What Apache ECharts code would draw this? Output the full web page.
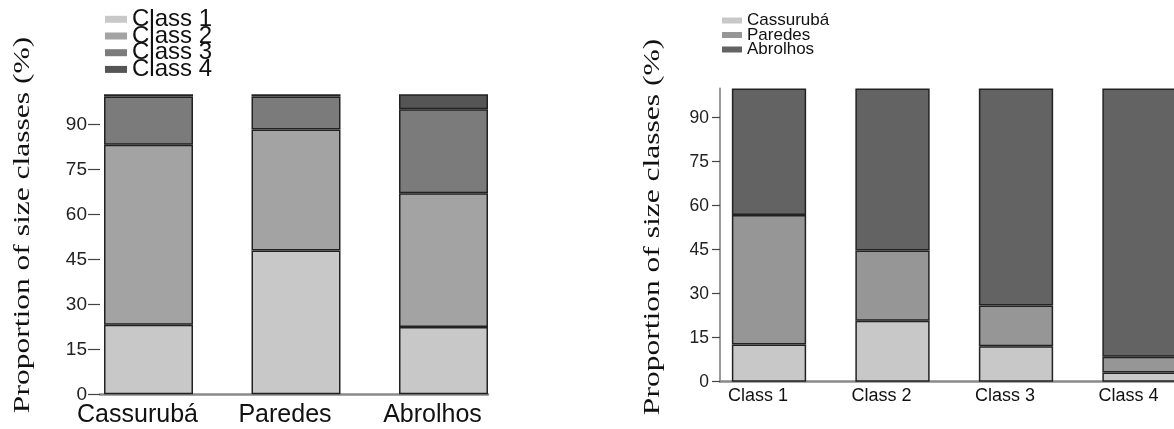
<!DOCTYPE html>
<html>
<head>
<meta charset="utf-8">
<script src="https://cdn.jsdelivr.net/npm/echarts@6/dist/echarts.min.js"></script>
<style>
  html, body { margin: 0; padding: 0; background: #fff; }
  #chart { width: 1174px; height: 429px; }
</style>
</head>
<body>
<div id="chart"></div>
<script>
// Left panel: size-class composition per site
const sites = ['Cassurubá', 'Paredes', 'Abrolhos'];
const sizeClasses = ['Class 1', 'Class 2', 'Class 3', 'Class 4'];
const class1 = [23.2, 47.9, 22.4];
const class2 = [60.0, 40.4, 44.6];
const class3 = [16.1, 11.0, 28.0];
const class4 = [0.7, 0.7, 5.0];

// Right panel: site composition per size class
const cassuruba = [12.7, 20.8, 12.1, 3.1];
const paredes = [44.1, 23.9, 13.9, 5.4];
const abrolhos = [43.2, 55.3, 74.0, 91.5];

const yTicks = [0, 15, 30, 45, 60, 75, 90];
const yTitle = 'Proportion of size classes (%)';

const leftColors = ['#c8c8c8', '#a3a3a3', '#7b7b7b', '#555555'];
const rightColors = ['#c8c8c8', '#969696', '#636363'];
const textFont = '"Liberation Sans", Arial, sans-serif';
const titleFont = '23px "Liberation Serif", "Times New Roman", serif';
const edge = { borderColor: '#222', borderWidth: 1.5 };

const chart = echarts.init(document.getElementById('chart'), null, { renderer: 'canvas' });

function frameY(gridIndex, fontSize, showLine, tickLen, margin) {
  return {
    type: 'value', gridIndex, min: 0, max: 100,
    splitLine: { show: false },
    axisLine: { show: showLine, lineStyle: { color: '#999', width: 2 } },
    axisTick: { show: true, length: tickLen, customValues: yTicks, lineStyle: { color: '#444', width: 1.2 } },
    axisLabel: { customValues: yTicks, color: '#222', fontSize, fontFamily: textFont, margin }
  };
}
function frameX(gridIndex) {
  return {
    type: 'value', gridIndex, min: 0, max: 1,
    splitLine: { show: false }, axisTick: { show: false }, axisLabel: { show: false },
    axisLine: { show: true, lineStyle: { color: '#8a8a8a', width: 2.5 } }
  };
}
function barY(gridIndex) {
  return { type: 'value', gridIndex, min: 0, max: 100, show: false };
}
// category labels sit slightly left of the bar centres
function barX(gridIndex, data, fontSize, margin) {
  return {
    type: 'category', gridIndex, data,
    axisLine: { show: false }, axisTick: { show: false },
    axisLabel: {
      interval: 0, hideOverlap: false, color: '#111', fontSize, fontFamily: textFont, margin,
      padding: [0, 22, 0, 0]
    }
  };
}

const leftSeries = [class1, class2, class3, class4].map((vals, i) => ({
  name: sizeClasses[i], type: 'bar', stack: 'site', xAxisIndex: 1, yAxisIndex: 1,
  barWidth: 89, data: vals, itemStyle: Object.assign({ color: leftColors[i] }, edge)
}));
const rightSeries = [cassuruba, paredes, abrolhos].map((vals, i) => ({
  name: sites[i], type: 'bar', stack: 'cls', xAxisIndex: 3, yAxisIndex: 3,
  barWidth: 74.3, data: vals, itemStyle: Object.assign({ color: rightColors[i] }, edge)
}));

const gridBase = { outerBoundsMode: 'none', containLabel: false };

chart.setOption({
  animation: false,
  backgroundColor: '#fff',
  grid: [
    Object.assign({ left: 100, width: 388, top: 94.3, height: 300 }, gridBase),
    Object.assign({ left: 74.75, width: 442.5, top: 94.3, height: 300 }, gridBase),
    Object.assign({ left: 720, width: 454, top: 88.4, height: 293.3 }, gridBase),
    Object.assign({ left: 707.25, width: 494, top: 88.4, height: 293.3 }, gridBase)
  ],
  xAxis: [frameX(0), barX(1, sites, 25, 8), frameX(2), barX(3, sizeClasses, 18, 5)],
  yAxis: [frameY(0, 19, false, 12, 13), barY(1), frameY(2, 17.5, true, 8, 11), barY(3)],
  legend: [
    {
      data: sizeClasses, orient: 'vertical', left: 100, top: 2.3,
      itemWidth: 22, itemHeight: 7, itemGap: -7.3, icon: 'rect',
      itemStyle: { borderWidth: 0 },
      textStyle: { fontSize: 24, color: '#111', fontFamily: textFont }
    },
    {
      data: sites, orient: 'vertical', left: 717, top: 7,
      itemWidth: 20, itemHeight: 6, itemGap: -2.5, icon: 'rect',
      itemStyle: { borderWidth: 0 },
      textStyle: { fontSize: 17, color: '#111', fontFamily: textFont }
    }
  ],
  graphic: [
    {
      type: 'text', x: 23, y: 225, rotation: Math.PI / 2, scaleX: 1.37,
      style: { text: yTitle, font: titleFont, fill: '#111', align: 'center', verticalAlign: 'middle' }
    },
    {
      type: 'text', x: 653, y: 227, rotation: Math.PI / 2, scaleX: 1.37,
      style: { text: yTitle, font: titleFont, fill: '#111', align: 'center', verticalAlign: 'middle' }
    }
  ],
  series: leftSeries.concat(rightSeries)
});
</script>
</body>
</html>
